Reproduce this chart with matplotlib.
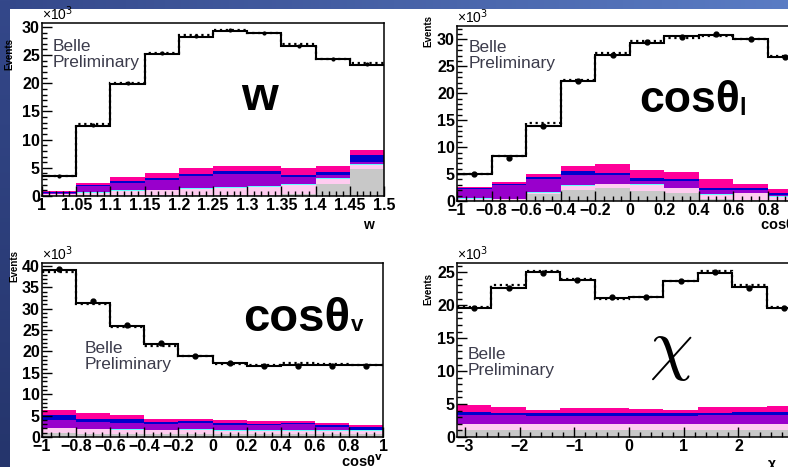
import numpy as np
import matplotlib
matplotlib.use("Agg")
import matplotlib.pyplot as plt
from matplotlib.ticker import MultipleLocator

plt.rcParams['font.family'] = ['Liberation Sans', 'DejaVu Sans']

# ---------------- data (units of 10^3 events) ----------------
w_edges = np.linspace(1.0, 1.5, 11)
w_fit = [3.6, 12.5, 19.9, 25.2, 28.3, 29.3, 28.9, 26.6, 24.3, 23.3]
w_mc = [3.5, 12.7, 20.1, 25.4, 28.5, 29.5, 29.0, 26.9, 24.4, 23.6]
w_data = [3.6, 12.6, 20.0, 25.3, 28.4, 29.4, 28.9, 26.7, 24.3, 23.4]
w_grey = [0.1, 0.1, 0.1, 0.1, 0.2, 0.2, 0.2, 0.3, 2.1, 4.8]
w_lpink = [0.2, 0.5, 0.8, 0.9, 1.1, 1.3, 1.4, 1.6, 0.9, 0.7]
w_cyan = [0.1, 0.1, 0.1, 0.1, 0.15, 0.15, 0.15, 0.15, 0.2, 0.2]
w_purple = [0.2, 1.0, 1.3, 1.8, 2.1, 2.3, 2.2, 1.3, 0.6, 0.3]
w_blue = [0.1, 0.2, 0.3, 0.3, 0.4, 0.4, 0.4, 0.4, 0.4, 1.2]
w_magenta = [0.1, 0.4, 0.8, 0.9, 1.0, 0.9, 0.9, 1.2, 1.2, 1.0]

cl_edges = np.linspace(-1.0, 1.0, 11)
cl_fit = [5.0, 8.3, 13.9, 22.2, 27.2, 29.4, 30.6, 30.9, 30.1, 26.8]
cl_mc = [5.1, 8.4, 14.4, 22.4, 27.4, 29.7, 30.3, 30.6, 30.0, 27.0]
cl_data = [5.0, 7.9, 13.9, 22.2, 27.2, 29.6, 30.5, 31.0, 30.1, 26.7]
cl_grey = [0.1, 0.1, 1.3, 2.0, 2.4, 1.9, 1.5, 0.3, 0.2, 0.1]
cl_lpink = [0.3, 0.2, 0.1, 0.8, 0.7, 1.1, 0.9, 0.9, 1.2, 0.7]
cl_cyan = [0.2, 0.1, 0.3, 0.1, 0.1, 0.1, 0.1, 0.1, 0.1, 0.1]
cl_purple = [1.7, 2.5, 2.3, 1.9, 1.6, 0.7, 1.2, 0.7, 0.6, 0.3]
cl_blue = [0.2, 0.3, 0.5, 0.8, 0.4, 0.4, 0.4, 0.4, 0.3, 0.3]
cl_magenta = [0.1, 0.3, 0.6, 0.9, 1.6, 1.5, 1.2, 1.6, 0.8, 0.7]

cv_edges = np.linspace(-1.0, 1.0, 11)
cv_fit = [39.1, 31.3, 25.9, 21.7, 18.9, 17.2, 16.6, 16.9, 16.9, 16.8]
cv_mc = [38.7, 31.1, 25.7, 21.4, 18.9, 17.1, 16.9, 17.2, 17.0, 16.8]
cv_data = [39.2, 31.9, 26.2, 21.9, 18.9, 17.3, 16.6, 16.6, 16.6, 16.6]
cv_grey = [1.0, 0.8, 0.7, 0.7, 0.8, 0.7, 0.7, 0.7, 0.7, 0.7]
cv_lpink = [1.0, 1.0, 1.0, 0.9, 0.9, 0.8, 0.8, 0.8, 0.8, 0.8]
cv_cyan = [0.2, 0.1, 0.1, 0.1, 0.2, 0.1, 0.1, 0.1, 0.1, 0.1]
cv_purple = [1.7, 1.6, 1.5, 1.3, 1.3, 1.3, 1.1, 1.4, 0.8, 0.1]
cv_blue = [1.2, 0.8, 0.8, 0.5, 0.5, 0.4, 0.4, 0.3, 0.3, 0.6]
cv_magenta = [1.3, 1.3, 1.1, 0.8, 0.6, 0.6, 0.6, 0.4, 0.6, 0.4]

chi_edges = np.linspace(-np.pi, np.pi, 11)
chi_fit = [19.6, 22.6, 25.0, 23.8, 21.1, 21.2, 23.6, 24.9, 22.7, 19.6]
chi_mc = [19.7, 23.0, 25.2, 24.0, 21.0, 21.2, 23.7, 25.2, 23.0, 19.7]
chi_data = [19.5, 22.6, 24.9, 23.8, 21.2, 21.2, 23.6, 25.0, 22.6, 19.6]
chi_grey = [1.1] * 10
chi_lpink = [0.8] * 10
chi_cyan = [0.1] * 10
chi_purple = [1.4, 1.3, 1.2, 1.2, 1.2, 1.2, 1.2, 1.3, 1.4, 1.4]
chi_blue = [0.4] * 10
chi_magenta = [1.1, 0.8, 0.5, 0.8, 0.8, 0.6, 0.5, 0.8, 0.8, 0.9]

stack_colors = ['#c8c8c8', '#ffccf0', '#66ffff', '#9900cc', '#0000cc', '#ff0099']


def draw_panel(ax, edges, layers, fit, mc, data, ymax, ms=3.5):
    bottom = np.zeros(len(fit))
    for vals, col in zip(layers, stack_colors):
        vals = np.asarray(vals)
        ax.stairs(bottom + vals, edges, baseline=bottom.copy(), fill=True,
                  color=col, lw=0)
        bottom = bottom + vals
    ax.stairs(mc, edges, baseline=None, color='black', lw=1.6, ls=':')
    ax.stairs(fit, edges, baseline=None, color='black', lw=1.5)
    centers = 0.5 * (edges[1:] + edges[:-1])
    ax.plot(centers, data, 'o', color='black', ms=ms)
    ax.set_xlim(edges[0], edges[-1])
    ax.set_ylim(0, ymax)
    for s in ax.spines.values():
        s.set_linewidth(1.1)
    ax.tick_params(which='both', direction='in', top=False, right=False,
                   labelsize=11.5, pad=1.5, width=1)
    ax.tick_params(which='major', length=7)
    ax.tick_params(which='minor', length=3.5)
    ax.yaxis.set_major_locator(MultipleLocator(5))
    ax.yaxis.set_minor_locator(MultipleLocator(1))
    ax.text(0.0, 1.0, u'\u00d710$^3$', transform=ax.transAxes, ha='left',
            va='bottom', fontsize=10)


fig = plt.figure(figsize=(7.88, 4.67), dpi=100)

# slide background
bg = fig.add_axes([0, 0, 1, 1], zorder=-10)
bg.set_axis_off()
grad = np.linspace(0, 1, 200)[None, :]
bg.imshow(grad, extent=[0, 788, 9, 0], aspect='auto',
          cmap=matplotlib.colors.LinearSegmentedColormap.from_list(
              'top', ['#34488a', '#5a7cc4']))
bg.imshow(np.linspace(0, 1, 200)[:, None], extent=[0, 10, 467, 0], aspect='auto',
          cmap=matplotlib.colors.LinearSegmentedColormap.from_list(
              'left', ['#34488a', '#25356c']))
bg.set_xlim(0, 788)
bg.set_ylim(467, 0)

H = 467.0
W = 788.0


def pos(l, r, t, b):
    return [l / W, 1 - b / H, (r - l) / W, (b - t) / H]


ax1 = fig.add_axes(pos(42, 384, 23, 196))
draw_panel(ax1, w_edges, [w_grey, w_lpink, w_cyan, w_purple, w_blue, w_magenta],
           w_fit, w_mc, w_data, 30.7, ms=2)
ax1.xaxis.set_major_locator(MultipleLocator(0.05))
ax1.xaxis.set_minor_locator(MultipleLocator(0.01))
ax1.xaxis.set_major_formatter(matplotlib.ticker.FuncFormatter(
    lambda v, p: ('%.2f' % v).rstrip('0').rstrip('.')))

ax2 = fig.add_axes(pos(457, 802.6, 26, 201))
draw_panel(ax2, cl_edges, [cl_grey, cl_lpink, cl_cyan, cl_purple, cl_blue, cl_magenta],
           cl_fit, cl_mc, cl_data, 32.5)

ax3 = fig.add_axes(pos(42, 383, 263, 437))
draw_panel(ax3, cv_edges, [cv_grey, cv_lpink, cv_cyan, cv_purple, cv_blue, cv_magenta],
           cv_fit, cv_mc, cv_data, 40.7)

ax4 = fig.add_axes(pos(457, 801, 263, 437))
draw_panel(ax4, chi_edges, [chi_grey, chi_lpink, chi_cyan, chi_purple, chi_blue, chi_magenta],
           chi_fit, chi_mc, chi_data, 26.4)
ax4.xaxis.set_major_locator(MultipleLocator(1))
ax4.xaxis.set_minor_locator(MultipleLocator(0.2))

for ax in (ax2, ax3):
    ax.xaxis.set_major_locator(MultipleLocator(0.2))
    ax.xaxis.set_minor_locator(MultipleLocator(0.05))
    ax.xaxis.set_major_formatter(matplotlib.ticker.FuncFormatter(
        lambda v, p: '0' if abs(v) < 1e-9 else ('%g' % round(v, 2)).replace('-', u'\u2212')))

for ax in (ax1, ax2, ax3, ax4):
    for lab in ax.get_xticklabels() + ax.get_yticklabels():
        lab.set_fontweight('bold')

# y axis titles
ev = dict(rotation=90, ha='center', va='top', fontsize=7, fontweight='bold')
ax1.text(-0.094, 0.913, 'Events', transform=ax1.transAxes, **ev)
ax2.text(-0.084, 1.063, 'Events', transform=ax2.transAxes, **ev)
ax3.text(-0.082, 1.075, 'Events', transform=ax3.transAxes, **ev)
ax4.text(-0.084, 0.943, 'Events', transform=ax4.transAxes, **ev)

# x axis titles
ax1.text(0.955, -0.125, 'w', transform=ax1.transAxes, ha='center', va='top',
         fontsize=10, fontweight='bold')
ax2.text(0.877, -0.09, u'cos\u03b8$_{\\mathbf{l}}$', transform=ax2.transAxes, ha='left',
         va='top', fontsize=10.5, fontweight='bold')
ax3.text(1.0, -0.095, u'cos\u03b8$^{\\mathbf{v}}$', transform=ax3.transAxes, ha='right',
         va='top', fontsize=10.5, fontweight='bold')
ax4.text(0.915, -0.115, u'\u03c7', transform=ax4.transAxes, ha='center', va='top',
         fontsize=10, fontweight='bold')

# Belle Preliminary
bp = dict(fontsize=12.5, color='#3c3c4c', linespacing=1.1, ha='left', va='top')
ax1.text(0.032, 0.91, 'Belle\nPreliminary', transform=ax1.transAxes, **bp)
ax2.text(0.035, 0.92, 'Belle\nPreliminary', transform=ax2.transAxes, **bp)
ax3.text(0.125, 0.55, 'Belle\nPreliminary', transform=ax3.transAxes, **bp)
ax4.text(0.03, 0.52, 'Belle\nPreliminary', transform=ax4.transAxes, **bp)

# big variable labels
ax1.text(0.635, 0.495, 'w', transform=ax1.transAxes, ha='center', va='baseline',
         fontsize=34, fontweight='bold')
ax2.text(0.526, 0.51, u'cos\u03b8', transform=ax2.transAxes, ha='left', va='baseline',
         fontsize=32, fontweight='bold')
ax2.text(0.818, 0.49, 'l', transform=ax2.transAxes, ha='left', va='baseline',
         fontsize=17, fontweight='bold')
ax3.text(0.59, 0.61, u'cos\u03b8', transform=ax3.transAxes, ha='left', va='baseline',
         fontsize=34, fontweight='bold')
ax3.text(0.905, 0.61, 'v', transform=ax3.transAxes, ha='left', va='baseline',
         fontsize=16, fontweight='bold')
ax4.text(0.622, 0.494, r'$\chi$', transform=ax4.transAxes, ha='center', va='center',
         fontsize=50, math_fontfamily='cm')

fig.savefig('out.png', dpi=100)
